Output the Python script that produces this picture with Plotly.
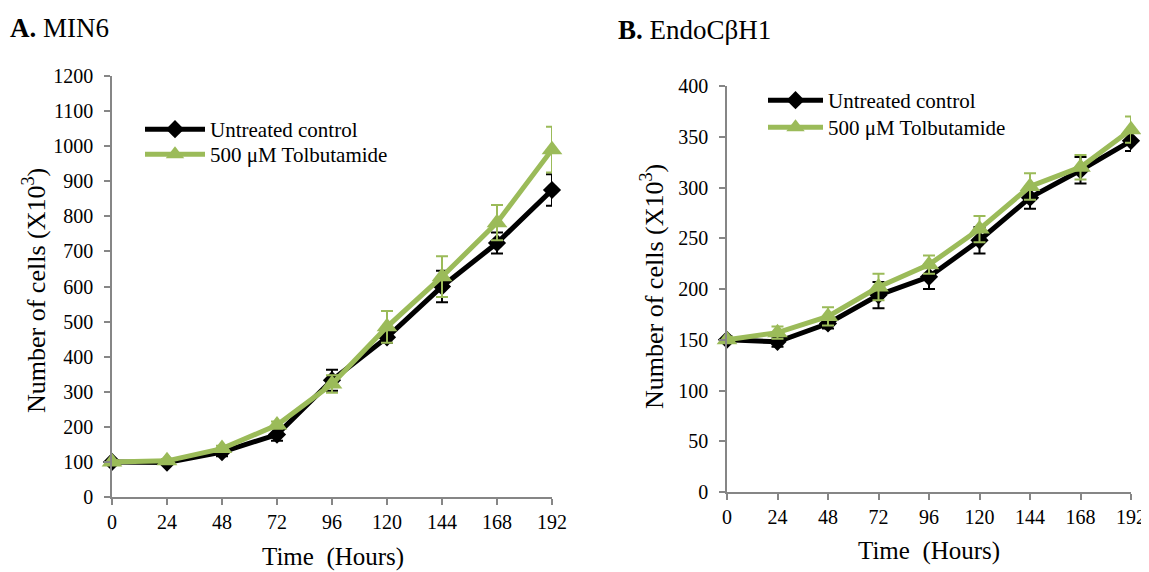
import plotly.graph_objects as go

hours = [0, 24, 48, 72, 96, 120, 144, 168, 192]

# Panel A: MIN6
a_ctrl = [100, 98, 128, 178, 333, 455, 600, 724, 875]
a_ctrl_err = [5, 5, 12, 18, 30, 15, 45, 30, 45]
a_tol = [100, 103, 138, 205, 322, 485, 628, 782, 990]
a_tol_err = [5, 5, 8, 10, 25, 45, 58, 50, 65]

# Panel B: EndoCβH1
b_ctrl = [150, 148, 166, 194, 212, 248, 290, 317, 346]
b_ctrl_err = [3, 5, 5, 13, 12, 13, 11, 13, 10]
b_tol = [150, 157, 173, 202, 224, 259, 301, 320, 357]
b_tol_err = [3, 6, 9, 13, 9, 13, 13, 12, 13]

names = ["Untreated control", "500 μM Tolbutamide"]
BLACK = "#000000"
GREEN = "#9BBB59"
AXIS = "#868686"
FONT = "Liberation Serif, Times New Roman, serif"

# page body has an 8px margin: figure occupies 8..1149 x 8..572
OFF = 8
W, H = 1149 - OFF, 572 - OFF
def px(x):
    return (x - OFF) / W
def py(y):
    return 1 - (y - OFF) / H

fig = go.Figure()

def add_pair(ctrl, cerr, tol, terr, xa, ya, leg_c, leg_t):
    fig.add_trace(go.Scatter(
        x=hours, y=ctrl, name=names[0], mode="lines+markers",
        line=dict(color=BLACK, width=5),
        marker=dict(symbol="diamond", size=14, color=BLACK),
        error_y=dict(type="data", array=cerr, color=BLACK, thickness=2, width=6),
        xaxis=xa, yaxis=ya, legend=leg_c, cliponaxis=False))
    fig.add_trace(go.Scatter(
        x=hours, y=tol, name=names[1], mode="lines+markers",
        line=dict(color=GREEN, width=5),
        marker=dict(symbol="triangle-up", size=18, color=GREEN),
        error_y=dict(type="data", array=terr, color=GREEN, thickness=2, width=6),
        xaxis=xa, yaxis=ya, legend=leg_t, cliponaxis=False))

add_pair(a_ctrl, a_ctrl_err, a_tol, a_tol_err, "x", "y", "legend", "legend3")
add_pair(b_ctrl, b_ctrl_err, b_tol, b_tol_err, "x2", "y2", "legend2", "legend4")

tickfont = dict(family=FONT, size=20, color="black")
xcommon = dict(range=[0, 192], tickmode="array", tickvals=hours,
               ticks="outside", ticklen=6, tickcolor=AXIS, tickwidth=1.5,
               showline=True, linecolor=AXIS, linewidth=1.5, automargin=False,
               showgrid=False, zeroline=False, tickfont=tickfont, fixedrange=True)
ycommon = dict(ticks="outside", ticklen=6, tickcolor=AXIS, tickwidth=1.5,
               showline=True, linecolor=AXIS, linewidth=1.5, automargin=False,
               ticklabelstandoff=7,
               showgrid=False, zeroline=False, tickfont=tickfont, fixedrange=True)

legfont = dict(family=FONT, size=21, color="black")
def leg(x, y, iw):
    return dict(x=px(x), y=py(y), xanchor="left", yanchor="top", font=legfont,
                bgcolor="rgba(0,0,0,0)", itemwidth=iw, tracegroupgap=0)

fig.update_layout(
    width=W, height=H,
    margin=dict(l=0, r=0, t=0, b=0, autoexpand=False),
    paper_bgcolor="white", plot_bgcolor="white",
    font=dict(family=FONT, color="black"),
    xaxis=dict(domain=[px(112), px(552)], anchor="y", **xcommon),
    yaxis=dict(domain=[py(497), py(76)], anchor="x", range=[0, 1200], dtick=100, **ycommon),
    xaxis2=dict(domain=[px(727), px(1131)], anchor="y2", **xcommon),
    yaxis2=dict(domain=[py(492), py(86)], anchor="x2", range=[0, 400], dtick=50, **ycommon),
    legend=leg(140, 109, 60),
    legend3=leg(140, 134, 60),
    legend2=leg(763, 80, 55),
    legend4=leg(763, 107, 55),
    showlegend=True,
)

NB = "\u00a0"
ann = [
    dict(text="<b>A.</b> MIN6", x=px(8), y=py(28), xanchor="left", yanchor="middle",
         font=dict(size=27)),
    dict(text="<b>B.</b> EndoCβH1", x=px(616), y=py(30), xanchor="left", yanchor="middle",
         font=dict(size=27)),
    dict(text="Number of cells (X10<sup>3</sup>)", x=px(34), y=py(291), textangle=-90,
         xanchor="center", yanchor="middle", font=dict(size=26)),
    dict(text="Number of cells (X10<sup>3</sup>)", x=px(652), y=py(287), textangle=-90,
         xanchor="center", yanchor="middle", font=dict(size=26)),
    dict(text="Time " + NB + "(Hours)", x=px(333), y=py(557), xanchor="center", yanchor="middle",
         font=dict(size=25)),
    dict(text="Time " + NB + "(Hours)", x=px(929), y=py(551), xanchor="center", yanchor="middle",
         font=dict(size=25)),
]
for a in ann:
    a.update(xref="paper", yref="paper", showarrow=False)
    a["font"].update(family=FONT, color="black")
fig.update_layout(annotations=ann)

fig.write_html("out.html")
